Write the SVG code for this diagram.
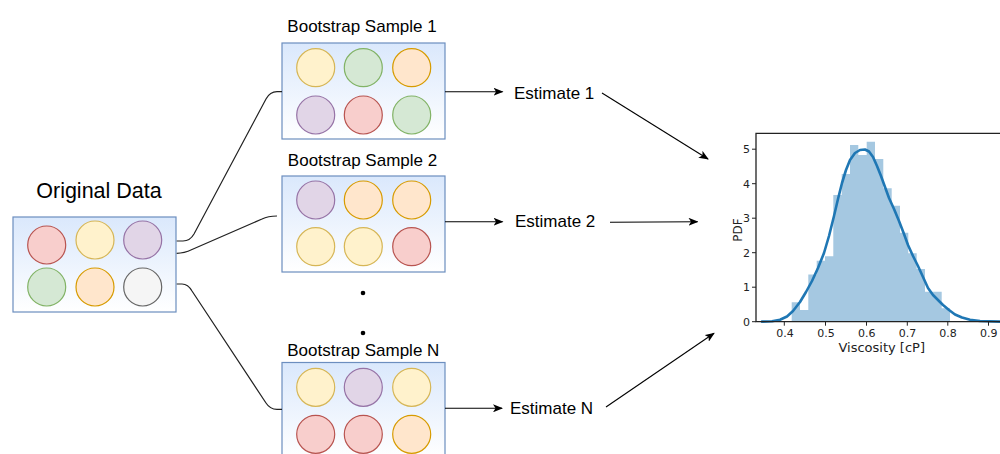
<svg xmlns="http://www.w3.org/2000/svg" width="1000" height="454" viewBox="0 0 1000 454">
<defs>
<linearGradient id="boxg" x1="0" y1="0" x2="0" y2="1">
<stop offset="0" stop-color="#dae8fc"/>
<stop offset="1" stop-color="#ffffff"/>
</linearGradient>
<marker id="arr" markerWidth="10" markerHeight="8" refX="9" refY="4" orient="auto" markerUnits="userSpaceOnUse">
<path d="M0,0 L10,4 L0,8 L2.5,4 Z" fill="#000"/>
</marker>
<style>
.box{fill:url(#boxg);stroke:#6c8ebf;stroke-width:1.2}
.red{fill:#f8cecc;stroke:#b85450}
.yel{fill:#fff2cc;stroke:#d6b656}
.pur{fill:#e1d5e7;stroke:#9673a6}
.grn{fill:#d5e8d4;stroke:#82b366}
.org{fill:#ffe6cc;stroke:#d79b00}
.gry{fill:#f5f5f5;stroke:#666666}
circle{stroke-width:1.2}
.t{font-family:"Liberation Sans",Arial,sans-serif;fill:#000}
.conn{fill:none;stroke:#222;stroke-width:1.2}
.arrow{fill:none;stroke:#000;stroke-width:1.1;marker-end:url(#arr)}
.ax{font-family:"DejaVu Sans",sans-serif;fill:#222}
.bar{fill:#a5c8e1}
.spine{stroke:#222;stroke-width:1.3;fill:none}
.tick{stroke:#222;stroke-width:1}
</style>
</defs>

<g id="original">
<text class="t" x="99" y="197.5" font-size="21.5" text-anchor="middle">Original Data</text>
<rect class="box" x="13" y="217" width="163" height="95"/>
<circle class="red" cx="46.7" cy="245" r="19"/>
<circle class="yel" cx="95" cy="240" r="19"/>
<circle class="pur" cx="142.7" cy="240" r="19"/>
<circle class="grn" cx="46.7" cy="287" r="19"/>
<circle class="org" cx="95" cy="287" r="19"/>
<circle class="gry" cx="142.7" cy="287" r="19"/>
</g>

<g id="sample1">
<text class="t" x="362" y="32" font-size="17" text-anchor="middle">Bootstrap Sample 1</text>
<rect class="box" x="282" y="43" width="163" height="96"/>
<circle class="yel" cx="315.7" cy="67.7" r="19"/>
<circle class="grn" cx="363.3" cy="67.7" r="19"/>
<circle class="org" cx="411.7" cy="67.7" r="19"/>
<circle class="pur" cx="315.7" cy="115" r="19"/>
<circle class="red" cx="363.3" cy="115" r="19"/>
<circle class="grn" cx="411.7" cy="115" r="19"/>
</g>

<g id="sample2">
<text class="t" x="362.5" y="165.7" font-size="17" text-anchor="middle">Bootstrap Sample 2</text>
<rect class="box" x="282" y="176" width="163" height="96"/>
<circle class="pur" cx="315.7" cy="200" r="19"/>
<circle class="org" cx="363.3" cy="200" r="19"/>
<circle class="org" cx="411.7" cy="200" r="19"/>
<circle class="yel" cx="315.7" cy="246.7" r="19"/>
<circle class="yel" cx="363.3" cy="246.7" r="19"/>
<circle class="red" cx="411.7" cy="246.7" r="19"/>
</g>

<g id="dots">
<circle cx="363" cy="293" r="2.3" fill="#000" stroke="none"/>
<circle cx="363" cy="333" r="2.3" fill="#000" stroke="none"/>
</g>

<g id="sampleN">
<text class="t" x="363.3" y="356" font-size="17" text-anchor="middle">Bootstrap Sample N</text>
<rect class="box" x="282" y="362.5" width="163" height="96"/>
<circle class="yel" cx="315.7" cy="387.3" r="19"/>
<circle class="pur" cx="363.3" cy="387.3" r="19"/>
<circle class="yel" cx="411.7" cy="387.3" r="19"/>
<circle class="red" cx="315.7" cy="434.3" r="19"/>
<circle class="red" cx="363.3" cy="434.3" r="19"/>
<circle class="org" cx="411.7" cy="434.3" r="19"/>
</g>

<g id="estimate1"><text class="t" x="514" y="99" font-size="17">Estimate 1</text></g>
<g id="estimate2"><text class="t" x="515" y="227" font-size="17">Estimate 2</text></g>
<g id="estimateN"><text class="t" x="510" y="413.5" font-size="17">Estimate N</text></g>

<g id="connectors">
<path class="conn" d="M176.7,241 L183,241 Q190,241 194,234 L266,99 Q270,91.7 277,91.7 L282,91.7"/>
<path class="conn" d="M176.7,253.3 Q184,253.3 192,249.5 L262,219 Q268,216 277,216"/>
<path class="conn" d="M176.7,284 L182,284 Q188,284 192,291 L266,403 Q270,409.3 277,409.3 L282,409.3"/>
<line class="arrow" x1="445" y1="91.7" x2="502.5" y2="91.7"/>
<line class="arrow" x1="445" y1="221.7" x2="502.5" y2="221.7"/>
<line class="arrow" x1="445" y1="408.3" x2="502" y2="408.3"/>
<line class="arrow" x1="602" y1="93" x2="708" y2="159"/>
<line class="arrow" x1="610" y1="222.3" x2="697.5" y2="221.7"/>
<line class="arrow" x1="606" y1="407" x2="714" y2="333.3"/>
</g>

<g id="histogram">
<path class="bar" d="M791.7,321.7 V302.3 H800 V310 H808.3 V274.5 H816.7 V260.7 H825 V256.3 H833.3 V195 H841.7 V174 H850 V145 H858.3 V155 H866.7 V141.7 H875 V159 H883.3 V188.3 H891.7 V205.7 H900 V232.7 H908.3 V253.3 H916.7 V269 H925 V291.7 H941.7 V308.3 H950 V321.7 Z"/>
<polyline fill="none" stroke="#1f77b4" stroke-width="2.6" stroke-linejoin="round" stroke-linecap="round" points="762,321.6 772,321.2 780,319.8 787,316.5 793,311 800,302 806,292 812,281 818,268 824,253 829,236 834,216 838,199 842,183 846,170 850,160 855,153 860,150 865,149.5 869,151.5 873,157 877,166 881,176 885,187 889,198 894,209 899,221 904,234 908,245 913,256 918,266 923,277 928,288 933,295 938,300 943,305 949,310 955,314.5 962,317.5 970,319.8 980,321 1000,321.6"/>
<path class="spine" d="M1001,133.3 L756,133.3 L756,321.7 L1001,321.7"/>
<g id="yticks">
<line class="tick" x1="752" y1="321.7" x2="756" y2="321.7"/>
<line class="tick" x1="752" y1="287.2" x2="756" y2="287.2"/>
<line class="tick" x1="752" y1="252.7" x2="756" y2="252.7"/>
<line class="tick" x1="752" y1="218.2" x2="756" y2="218.2"/>
<line class="tick" x1="752" y1="183.7" x2="756" y2="183.7"/>
<line class="tick" x1="752" y1="149.2" x2="756" y2="149.2"/>
<text class="ax" font-size="11" text-anchor="end" x="750" y="325.7">0</text>
<text class="ax" font-size="11" text-anchor="end" x="750" y="291.2">1</text>
<text class="ax" font-size="11" text-anchor="end" x="750" y="256.7">2</text>
<text class="ax" font-size="11" text-anchor="end" x="750" y="222.2">3</text>
<text class="ax" font-size="11" text-anchor="end" x="750" y="187.7">4</text>
<text class="ax" font-size="11" text-anchor="end" x="750" y="153.2">5</text>
</g>
<g id="xticks">
<line class="tick" x1="784.3" y1="321.7" x2="784.3" y2="325.7"/>
<line class="tick" x1="825.5" y1="321.7" x2="825.5" y2="325.7"/>
<line class="tick" x1="866.5" y1="321.7" x2="866.5" y2="325.7"/>
<line class="tick" x1="907.3" y1="321.7" x2="907.3" y2="325.7"/>
<line class="tick" x1="947.8" y1="321.7" x2="947.8" y2="325.7"/>
<line class="tick" x1="988.5" y1="321.7" x2="988.5" y2="325.7"/>
<text class="ax" font-size="11" text-anchor="middle" x="785" y="337.3">0.4</text>
<text class="ax" font-size="11" text-anchor="middle" x="826" y="337.3">0.5</text>
<text class="ax" font-size="11" text-anchor="middle" x="866.8" y="337.3">0.6</text>
<text class="ax" font-size="11" text-anchor="middle" x="907.5" y="337.3">0.7</text>
<text class="ax" font-size="11" text-anchor="middle" x="948" y="337.3">0.8</text>
<text class="ax" font-size="11" text-anchor="middle" x="988.8" y="337.3">0.9</text>
</g>
<text class="ax" font-size="13" text-anchor="middle" x="881.7" y="352">Viscosity [cP]</text>
<text class="ax" font-size="12" text-anchor="middle" transform="translate(741.5,230) rotate(-90)">PDF</text>
</g>
</svg>
